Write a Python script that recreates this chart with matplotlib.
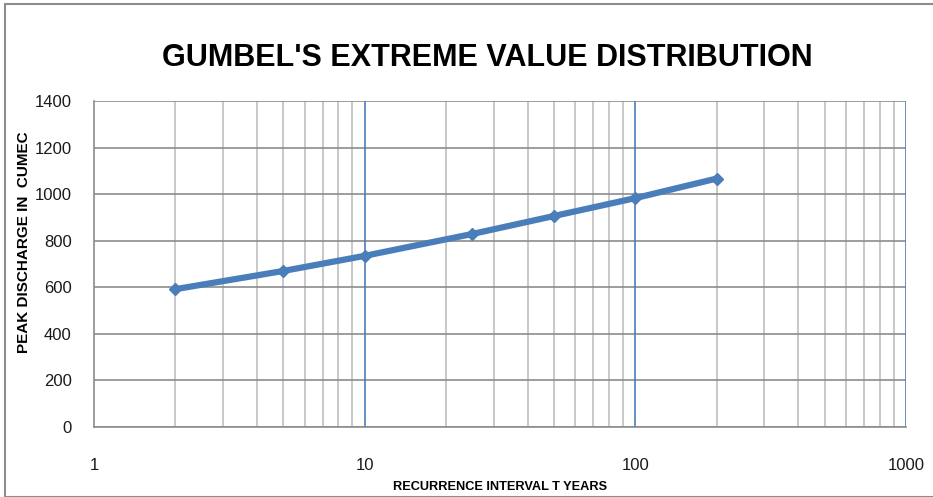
import matplotlib.pyplot as plt
from matplotlib.patches import Rectangle
from matplotlib.ticker import FixedLocator, NullFormatter

# recurrence interval (years) and peak discharge (cumec)
T = [2, 5, 10, 25, 50, 100, 200]
Q = [592, 670, 735, 829, 906, 983, 1067]

plt.rcParams['font.family'] = ['Liberation Sans', 'DejaVu Sans']

fig = plt.figure(figsize=(9.33, 4.97), dpi=100)
W, H = 933, 497
ax = fig.add_axes([94 / W, 1 - 427 / H, (906 - 94) / W, (427 - 101) / H])

# outer chart border
fig.patches.append(Rectangle((5 / W, 0), 1.0, 1 - 4 / H, transform=fig.transFigure,
                             fill=False, edgecolor='#8c8c8c', linewidth=1.5))

ax.set_xscale('log')
ax.set_xlim(1, 1000)
ax.set_ylim(0, 1400)
ax.set_yticks(range(0, 1401, 200))
ax.set_xticks([1, 10, 100, 1000])
ax.set_xticklabels(['1', '10', '100', '1000'])
minors = [m * d for d in (1, 10, 100) for m in range(2, 10)]
ax.xaxis.set_minor_locator(FixedLocator(minors))
ax.xaxis.set_minor_formatter(NullFormatter())

ax.grid(True, which='minor', axis='x', color='#bfbfbf', linewidth=1.2)
ax.grid(True, which='major', axis='y', color='#8c8c8c', linewidth=1.2)
for x in [10, 100, 1000]:
    ax.axvline(x, color='#4a7ebb', linewidth=1.2, zorder=1.5)
ax.set_axisbelow(True)

for s in ['top', 'right']:
    ax.spines[s].set_visible(False)
ax.spines['left'].set_color('#8c8c8c')
ax.spines['bottom'].set_color('#8c8c8c')
ax.spines['left'].set_linewidth(1.2)
ax.spines['bottom'].set_linewidth(1.2)
ax.tick_params(axis='both', which='both', length=0, labelsize=12, colors='#1a1a1a')
ax.tick_params(axis='x', pad=22)
ax.tick_params(axis='y', pad=16)

ax.plot(T, Q, color='#4a7ebb', linewidth=4.5, marker='D', markersize=6,
        zorder=3, clip_on=False)

fig.text(487 / W, 1 - 58 / H, "GUMBEL'S EXTREME VALUE DISTRIBUTION", ha='center', va='center',
         fontsize=22, fontweight='bold')
fig.text(24 / W, 1 - 242 / H, 'PEAK DISCHARGE IN  CUMEC', ha='center', va='center',
         rotation=90, fontsize=11, fontweight='bold')
fig.text(500 / W, 1 - 487 / H, 'RECURRENCE INTERVAL T YEARS', ha='center', va='center',
         fontsize=9.2, fontweight='bold')

plt.savefig('out.png', dpi=100)
